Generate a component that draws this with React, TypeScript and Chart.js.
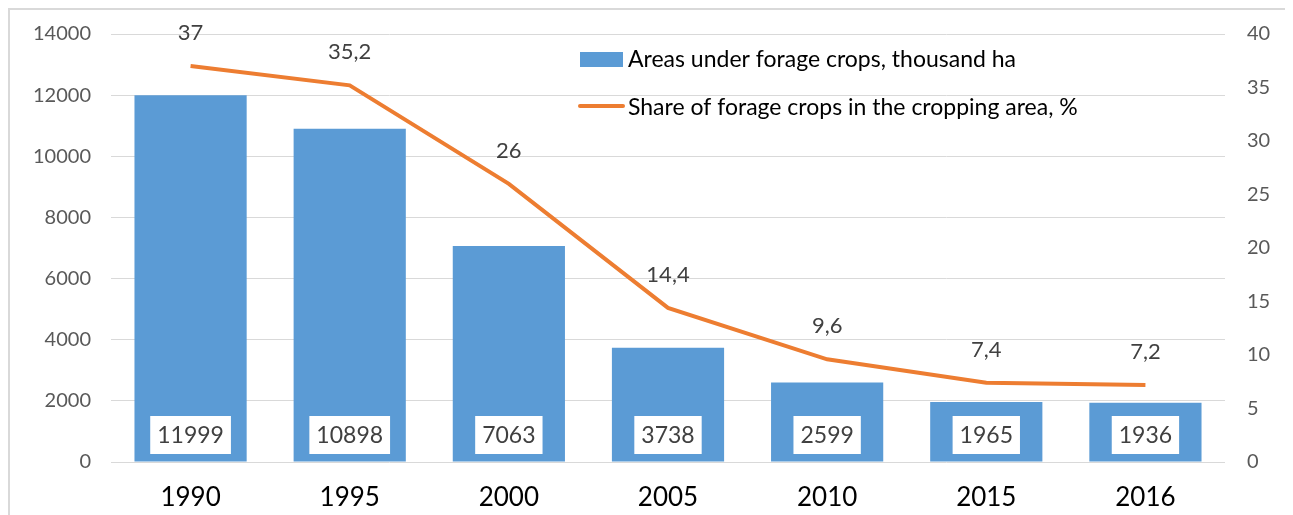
import React, { useEffect, useRef } from "react";
import { Chart, registerables } from "chart.js";

Chart.register(...registerables);

const years = ["1990", "1995", "2000", "2005", "2010", "2015", "2016"];
const areas = [11999, 10898, 7063, 3738, 2599, 1965, 1936];
const shares = [37, 35.2, 26, 14.4, 9.6, 7.4, 7.2];
const areaLabel = "Areas under forage crops, thousand ha";
const shareLabel = "Share of forage crops in the cropping area, %";

const FONT = "Lato, 'Open Sans', sans-serif";
const BLUE = "#5B9BD5";
const ORANGE = "#ED7D31";

const labelsPlugin = {
  id: "customLabels",
  afterDatasetsDraw(chart: any) {
    const ctx = chart.ctx as CanvasRenderingContext2D;
    const yScale = chart.scales.y;
    const base = yScale.getPixelForValue(0);
    const barMeta = chart.getDatasetMeta(0);
    ctx.save();
    ctx.font = `23px ${FONT}`;
    ctx.textAlign = "center";
    ctx.textBaseline = "middle";
    barMeta.data.forEach((el: any, i: number) => {
      const txt = String(areas[i]);
      const w = ctx.measureText(txt).width + 14;
      const h = 38;
      const cy = base - 8 - h / 2;
      ctx.fillStyle = "#ffffff";
      ctx.fillRect(el.x - w / 2, cy - h / 2, w, h);
      ctx.fillStyle = "#404040";
      ctx.fillText(txt, el.x, cy + 1);
    });
    const lineMeta = chart.getDatasetMeta(1);
    ctx.font = `22px ${FONT}`;
    ctx.fillStyle = "#404040";
    lineMeta.data.forEach((el: any, i: number) => {
      const txt = String(shares[i]).replace(".", ",");
      ctx.fillText(txt, el.x, el.y - 33);
    });
    ctx.restore();
  },
  afterDraw(chart: any) {
    const ctx = chart.ctx as CanvasRenderingContext2D;
    ctx.save();
    ctx.font = `23px ${FONT}`;
    ctx.textAlign = "left";
    ctx.textBaseline = "middle";
    ctx.fillStyle = BLUE;
    ctx.fillRect(570, 42, 43, 15);
    ctx.fillStyle = "#000000";
    ctx.fillText(areaLabel, 618, 50);
    ctx.strokeStyle = ORANGE;
    ctx.lineWidth = 4;
    ctx.lineCap = "round";
    ctx.beginPath();
    ctx.moveTo(570, 96);
    ctx.lineTo(613, 96);
    ctx.stroke();
    ctx.fillText(shareLabel, 618, 98);
    ctx.restore();
  },
};

export default function App() {
  const ref = useRef<HTMLCanvasElement>(null);
  useEffect(() => {
    document.body.style.overflow = "hidden";
    const chart = new Chart(ref.current!, {
      type: "bar",
      data: {
        labels: years,
        datasets: [
          {
            type: "bar",
            label: areaLabel,
            data: areas,
            backgroundColor: BLUE,
            yAxisID: "y",
            categoryPercentage: 1,
            barPercentage: 0.705,
            order: 2,
          },
          {
            type: "line",
            label: shareLabel,
            data: shares,
            borderColor: ORANGE,
            borderWidth: 4,
            pointRadius: 0,
            tension: 0,
            yAxisID: "y1",
            order: 1,
          } as any,
        ],
      },
      options: {
        animation: false,
        responsive: false,
        layout: { padding: { top: 24, left: 0, right: 0, bottom: 0 } },
        plugins: { legend: { display: false }, tooltip: { enabled: false } },
        scales: {
          x: {
            grid: { display: false, drawTicks: false },
            border: { display: false },
            ticks: { color: "#000000", font: { family: FONT, size: 26 }, padding: 20 },
            afterFit(scale: any) {
              scale.height = 64;
              scale.paddingLeft = 0;
              scale.paddingRight = 0;
            },
          },
          y: {
            position: "left",
            min: 0,
            max: 14000,
            ticks: {
              stepSize: 2000,
              color: "#595959",
              font: { family: FONT, size: 20 },
              padding: 20,
              callback: (v: any) => String(v),
            },
            grid: { color: "#d9d9d9", lineWidth: 1, drawTicks: false },
            border: { display: false },
            afterFit(scale: any) {
              scale.width = 101;
              scale.paddingTop = 0;
              scale.paddingBottom = 0;
            },
          },
          y1: {
            position: "right",
            min: 0,
            max: 40,
            ticks: {
              stepSize: 5,
              color: "#595959",
              font: { family: FONT, size: 20 },
              padding: 22,
              callback: (v: any) => String(v),
            },
            grid: { display: false, drawTicks: false },
            border: { display: false },
            afterFit(scale: any) {
              scale.width = 63;
              scale.paddingTop = 0;
              scale.paddingBottom = 0;
            },
          },
        },
      },
      plugins: [labelsPlugin],
    });
    return () => chart.destroy();
  }, []);
  return (
    <div style={{ width: 1282, height: 520, border: "2px solid #d9d9d9", boxSizing: "border-box" }}>
      <canvas ref={ref} width={1278} height={516} style={{ display: "block" }} />
    </div>
  );
}
